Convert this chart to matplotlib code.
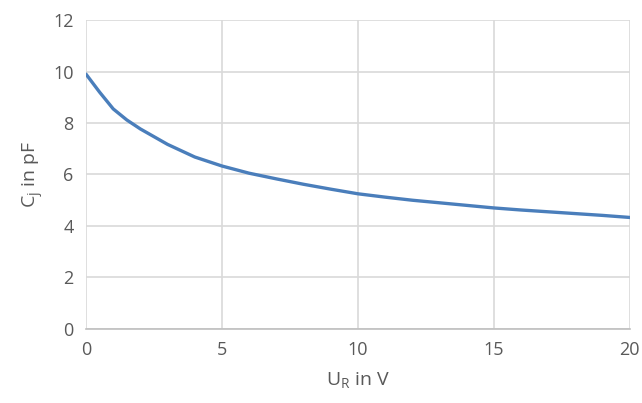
import matplotlib
matplotlib.use("Agg")
import matplotlib.pyplot as plt

u_r = [0, 0.5, 1, 1.5, 2, 3, 4, 5, 6, 7, 8, 9, 10, 11, 12, 13, 14, 15, 16, 17, 18, 19, 20]
c_j = [9.9, 9.2, 8.55, 8.12, 7.77, 7.17, 6.68, 6.33, 6.05, 5.83, 5.62, 5.43, 5.25, 5.12, 5.0, 4.9, 4.8, 4.7, 4.62, 4.55, 4.48, 4.41, 4.33]
x_ticks = [0, 5, 10, 15, 20]
y_ticks = [0, 2, 4, 6, 8, 10, 12]

plt.rcParams['font.family'] = ['Open Sans', 'DejaVu Sans']
fig = plt.figure(figsize=(6.42, 4.03), dpi=100)
ax = fig.add_axes([0.134, 0.184, 0.847, 0.766])
ax.plot(u_r, c_j, color='#4A7EBB', lw=2.4, solid_capstyle='round', solid_joinstyle='round', zorder=3)
ax.set_xlim(0, 20)
ax.set_ylim(0, 12)
ax.set_xticks(x_ticks)
ax.set_yticks(y_ticks)
ax.grid(True, color='#D9D9D9', lw=1.2)
for s in ['top', 'right', 'left']:
    ax.spines[s].set_visible(False)
ax.spines['bottom'].set_color('#BFBFBF')
ax.spines['bottom'].set_linewidth(1.2)
ax.tick_params(length=0, labelsize=13, colors='#595959', pad=9)
ax.set_xlabel('U$_\\mathregular{R}$ in V', fontsize=14, color='#595959', labelpad=8)
ax.set_ylabel('C$_\\mathregular{j}$ in pF', fontsize=14, color='#595959', labelpad=5)
fig.savefig('out.png', dpi=100)
